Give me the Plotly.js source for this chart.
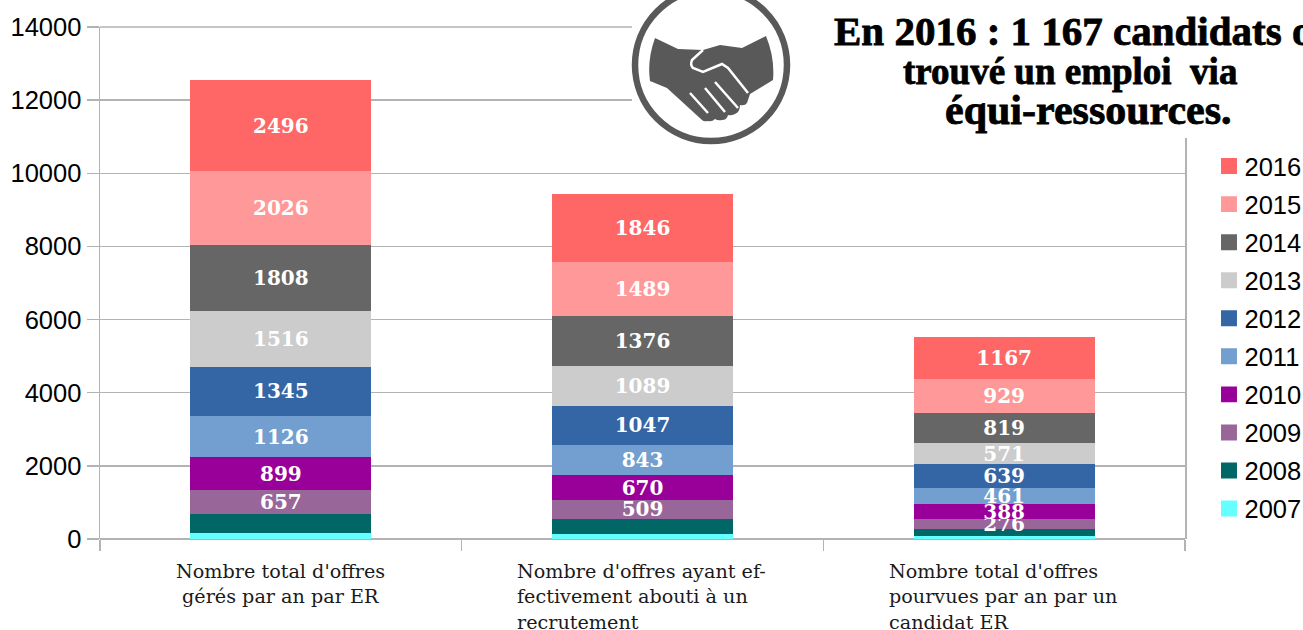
<!DOCTYPE html>
<html><head><meta charset="utf-8">
<script src="https://cdn.plot.ly/plotly-3.0.1.min.js"></script>
<style>html,body{margin:0;padding:0;background:#fff;overflow:hidden}#c{width:1303px;height:630px}
.annotation[data-index="0"] text,.annotation[data-index="1"] text,.annotation[data-index="2"] text{stroke:#000;stroke-width:.8px}
.legend .legendpoints path{transform:translate(24.5px,0) scale(1.33)}
</style>
</head><body><div id="c"></div>
<script>
const categories = ["Nombre total d'offres gérés par an par ER",
  "Nombre d'offres ayant effectivement abouti à un recrutement",
  "Nombre total d'offres pourvues par an par un candidat ER"];
const categoryLines = [["Nombre total d'offres","gérés par an par ER"],
  ["Nombre d'offres ayant ef-","fectivement abouti à un","recrutement"],
  ["Nombre total d'offres","pourvues par an par un","candidat ER"]];
const years = ["2007","2008","2009","2010","2011","2012","2013","2014","2015","2016"];
const v2007 = [155, 150, 70];
const v2008 = [524, 410, 210];
const v2009 = [657, 509, 276];
const v2010 = [899, 670, 388];
const v2011 = [1126, 843, 461];
const v2012 = [1345, 1047, 639];
const v2013 = [1516, 1089, 571];
const v2014 = [1808, 1376, 819];
const v2015 = [2026, 1489, 929];
const v2016 = [2496, 1846, 1167];
const seriesValues = [v2007,v2008,v2009,v2010,v2011,v2012,v2013,v2014,v2015,v2016];
const colors = ["#66FFFF","#006666","#996699","#990099","#729FCF","#3465A4","#CCCCCC","#666666","#FF9999","#FF6666"];
const showLabel = [false,false,true,true,true,true,true,true,true,true];
const titleLines = ["En 2016 : 1 167 candidats ont","trouvé un emploi\u00a0 via","équi-ressources."];

const W=1303,H=630,L=100,R=1185,T=27,B=539;
const px=x=>(x-L)/(R-L), py=y=>(B-y)/(B-T);
const conv=s=>s.replace(/(-?[\d.]+),(-?[\d.]+)/g,(m,a,b)=>px(+a).toFixed(5)+','+py(+b).toFixed(5));

const traces = years.map((y,i)=>({
  type:'bar', name:y, x:categories, y:seriesValues[i], legendgroup:y, legendrank:100-i,
  marker:{color:colors[i],line:{width:0}},
  text:showLabel[i]?seriesValues[i].map(String):undefined,
  textposition:showLabel[i]?'inside':'none',
  insidetextanchor:'middle', textangle:0, constraintext:'none',
  insidetextfont:{family:'"DejaVu Serif",serif',size:20,color:'#fff',weight:700},
  hoverinfo:'name+y'
}));

const gray='#595959';
const shapes=[
 {type:'line',xref:'paper',yref:'paper',x0:0,x1:px(640),y0:1,y1:1,line:{color:'#b3b3b3',width:1.5},layer:'below'},
 {type:'rect',xref:'paper',yref:'paper',x0:px(632),x1:px(1310),y0:py(138),y1:py(-5),fillcolor:'#fff',line:{width:0},layer:'above'},
 {type:'circle',xref:'paper',yref:'paper',x0:px(635),x1:px(787),y0:py(141),y1:py(-11),fillcolor:'rgba(0,0,0,0)',line:{color:gray,width:6.5},layer:'above'},
 {type:'path',xref:'paper',yref:'paper',layer:'above',fillcolor:gray,line:{width:0},
  path:conv('M655,38 L678,49 L703,50 L720,45 L742,48 L766,36 Q775,58 773,80 L750,94 L747,103 Q745,106 740,105 Q740,112 735,114 Q731,116 728,115 Q727,120 722,120 Q718,121 715,119 Q712,122 708,121 Q704,122 702,120 L667,88 L650,81 Q647,60 655,38 Z')},
 {type:'path',xref:'paper',yref:'paper',layer:'above',fillcolor:'rgba(0,0,0,0)',line:{color:'#fff',width:2.5},
  path:conv('M703,50 L692,60 Q690,65 693,68 L703,72 L722,64 L728,68 L748,93')},
 {type:'path',xref:'paper',yref:'paper',layer:'above',fillcolor:'rgba(0,0,0,0)',line:{color:'#fff',width:2.5},
  path:conv('M690,93 L708,113 M705,88 L725,112 M715,82 L738,108')}
];

const titleFont=s=>({family:'"Liberation Serif",serif',size:s,color:'#000',weight:700});
const catFont={family:'"DejaVu Serif",serif',size:19.2,color:'#1a1a1a'};
const lineShiftX=[0,-127.5,-117];
const annotations=[
  {xref:'paper',yref:'paper',x:px(832),y:py(31),xanchor:'left',yanchor:'middle',text:titleLines[0],showarrow:false,font:titleFont(41)},
  {xref:'paper',yref:'paper',x:px(1070),y:py(71),xanchor:'center',yanchor:'middle',text:titleLines[1],showarrow:false,font:titleFont(37)},
  {xref:'paper',yref:'paper',x:px(1088),y:py(110),xanchor:'center',yanchor:'middle',text:titleLines[2],showarrow:false,font:titleFont(42)}
];
categoryLines.forEach((lines,c)=>lines.forEach((t,k)=>annotations.push({
  xref:'x',yref:'paper',x:categories[c],y:0,xshift:lineShiftX[c],yshift:-(32+25.5*k),
  xanchor:c===0?'center':'left',yanchor:'middle',text:t,showarrow:false,font:catFont})));

const layout={
  width:W,height:H,margin:{l:L,r:W-R,t:T,b:H-B,pad:0,autoexpand:false},
  paper_bgcolor:'#fff',plot_bgcolor:'#fff',
  barmode:'stack',bargap:0.5,
  font:{family:'"Liberation Sans",sans-serif',size:25.5,color:'#000'},
  xaxis:{type:'category',tickson:'boundaries',ticks:'outside',ticklen:11,tickcolor:'#b3b3b3',tickwidth:1.5,
    showticklabels:false,showgrid:false,showline:false,zeroline:false,automargin:false,fixedrange:true},
  yaxis:{range:[0,14000],dtick:2000,tick0:0,tickmode:'linear',tickformat:'d',ticks:'outside',ticklen:12,tickcolor:'#b3b3b3',tickwidth:1.5,
    gridcolor:'#b3b3b3',gridwidth:1.5,showline:true,linecolor:'#b3b3b3',linewidth:1.5,mirror:true,zeroline:true,zerolinecolor:'#b3b3b3',zerolinewidth:1.5,
    tickfont:{size:25.5,color:'#000'},automargin:false,fixedrange:true},
  legend:{x:px(1204.5),y:py(143),xanchor:'left',yanchor:'top',traceorder:'grouped',tracegroupgap:1.9,
    font:{size:25.5,color:'#000'},bgcolor:'rgba(0,0,0,0)',itemwidth:30},
  showlegend:true,shapes,annotations
};
Plotly.newPlot('c',traces,layout,{displayModeBar:false,staticPlot:true});
</script></body></html>
